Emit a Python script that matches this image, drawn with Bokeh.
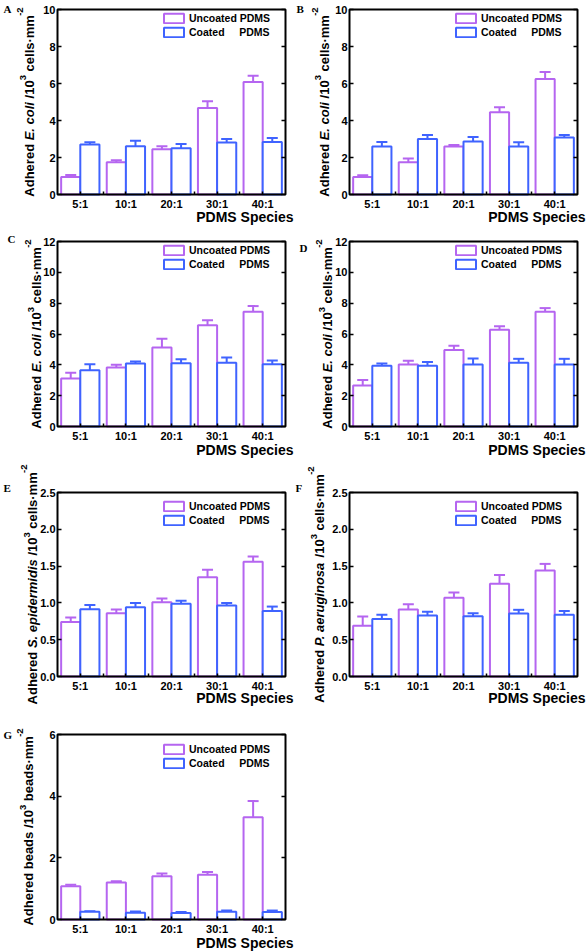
import math
from bokeh.plotting import figure
from bokeh.models import (ColumnDataSource, Range1d, LinearAxis, FixedTicker, PrintfTickFormatter,
                          Label, Legend, LegendItem, Whisker, TeeHead, BoxAnnotation)
from bokeh.layouts import column, row
from bokeh.embed import file_html
from bokeh.resources import INLINE

# ---------------- data ----------------
categories = ["5:1", "10:1", "20:1", "30:1", "40:1"]
series_names = ["Uncoated PDMS", "Coated\u00a0\u00a0\u00a0\u00a0\u00a0PDMS"]
x_title = "PDMS Species"

a_uncoated = [0.95, 1.74, 2.45, 4.68, 6.08]
a_uncoated_err = [0.11, 0.11, 0.16, 0.36, 0.34]
a_coated = [2.70, 2.61, 2.50, 2.81, 2.84]
a_coated_err = [0.12, 0.29, 0.23, 0.19, 0.22]

b_uncoated = [0.94, 1.74, 2.59, 4.44, 6.24]
b_uncoated_err = [0.10, 0.20, 0.09, 0.27, 0.38]
b_coated = [2.59, 3.00, 2.86, 2.59, 3.08]
b_coated_err = [0.25, 0.22, 0.25, 0.23, 0.14]

c_uncoated = [3.11, 3.83, 5.12, 6.57, 7.44]
c_uncoated_err = [0.37, 0.17, 0.57, 0.33, 0.37]
c_coated = [3.65, 4.09, 4.11, 4.13, 4.04]
c_coated_err = [0.39, 0.13, 0.26, 0.35, 0.24]

d_uncoated = [2.66, 4.02, 4.97, 6.27, 7.44]
d_uncoated_err = [0.35, 0.24, 0.26, 0.24, 0.24]
d_coated = [3.94, 3.94, 4.02, 4.13, 4.02]
d_coated_err = [0.15, 0.25, 0.39, 0.26, 0.37]

e_uncoated = [0.74, 0.86, 1.01, 1.35, 1.56]
e_uncoated_err = [0.06, 0.05, 0.05, 0.10, 0.07]
e_coated = [0.915, 0.94, 0.99, 0.965, 0.89]
e_coated_err = [0.055, 0.06, 0.04, 0.035, 0.06]

f_uncoated = [0.69, 0.91, 1.07, 1.26, 1.44]
f_uncoated_err = [0.125, 0.07, 0.07, 0.12, 0.09]
f_coated = [0.78, 0.83, 0.82, 0.856, 0.84]
f_coated_err = [0.06, 0.05, 0.04, 0.05, 0.05]

g_uncoated = [1.08, 1.20, 1.40, 1.45, 3.32]
g_uncoated_err = [0.05, 0.04, 0.09, 0.09, 0.52]
g_coated = [0.25, 0.22, 0.21, 0.25, 0.24]
g_coated_err = [0.02, 0.04, 0.03, 0.04, 0.05]

ticks_10 = [0, 2, 4, 6, 8, 10]
tick_labels_10 = ["0", "2", "4", "6", "8", "10"]
ticks_12 = [0, 2, 4, 6, 8, 10, 12]
tick_labels_12 = ["0", "2", "4", "6", "8", "10", "12"]
ticks_25 = [0, 0.5, 1.0, 1.5, 2.0, 2.5]
tick_labels_25 = ["0.0", "0.5", "1.0", "1.5", "2.0", "2.5"]
ticks_6 = [0, 2, 4, 6]
tick_labels_6 = ["0", "2", "4", "6"]

# y-axis titles: (text, italic, superscript)
ylab_ecoli = [("Adhered ", False, False), ("E. coli", True, False), (" /10", False, False),
              ("3", False, True), (" cells\u00b7mm", False, False), ("-2", False, True)]
ylab_sepi = [("Adhered ", False, False), ("S. epidermidis", True, False), (" /10", False, False),
             ("3", False, True), (" cells\u00b7mm", False, False), ("-2", False, True)]
ylab_paer = [("Adhered ", False, False), ("P. aeruginosa", True, False), (" /10", False, False),
             ("3", False, True), (" cells\u00b7mm", False, False), ("-2", False, True)]
ylab_beads = [("Adhered beads /10", False, False), ("3", False, True),
              (" beads\u00b7mm", False, False), ("-2", False, True)]

# ---------------- style ----------------
FONT = "Liberation Sans"
SERIF = "Liberation Serif"
PURPLE = "#B565F0"
BLUE = "#3F63FF"
MAIN_SIZE = 13.0
SUP_SIZE = 9.5
FRAME_W = 228

W_BOLD = {' ': 278, '\u00a0': 278, '-': 333, '.': 278, '/': 278, ':': 333, '\u00b7': 278,
          'A': 722, 'B': 722, 'C': 722, 'D': 722, 'E': 667, 'P': 667, 'S': 667, 'M': 833,
          'U': 722, 'a': 556, 'b': 611, 'c': 556, 'd': 611, 'e': 556, 'g': 611, 'h': 611,
          'i': 278, 'l': 278, 'm': 889, 'n': 611, 'o': 611, 'p': 611, 'r': 389, 's': 556,
          't': 333, 'u': 611}


def text_width(s, size):
    return sum(W_BOLD.get(ch, 556) for ch in s) * size / 1000.0


def make_panel(letter, u, ue, c, ce, y_end, ticks, tick_labels, ylab,
               W, H, box_left, box_top, frame_h,
               letter_xy, ylab_x, ylab_shift, legend_dy, xlabel_dy):
    n = len(categories)
    ppx = FRAME_W / n              # px per category
    pyu = frame_h / y_end          # px per y unit
    bottom_px = H - box_top - frame_h

    p = figure(width=W, height=H,
               x_range=Range1d(-box_left / ppx, n + (W - box_left - FRAME_W) / ppx),
               y_range=Range1d(-bottom_px / pyu, y_end + box_top / pyu),
               output_backend="svg", toolbar_location=None, tools="", title=None,
               x_axis_location=None, y_axis_location=None, min_border=0)
    p.background_fill_color = "white"
    p.border_fill_color = "white"
    p.outline_line_color = None
    p.xgrid.visible = False
    p.ygrid.visible = False

    def dx(px):
        return px / ppx

    def dy(px):
        return px / pyu

    centers = [i + 0.5 for i in range(n)]
    src = ColumnDataSource(dict(cat=categories,
                                xu=[x - 0.21 for x in centers], xc=[x + 0.21 for x in centers],
                                u=u, c=c,
                                u_top=[v + e for v, e in zip(u, ue)],
                                c_top=[v + e for v, e in zip(c, ce)]))
    r1 = p.vbar(x="xu", top="u", width=0.42, source=src, fill_color="white",
                line_color=PURPLE, line_width=2)
    r2 = p.vbar(x="xc", top="c", width=0.42, source=src, fill_color="white",
                line_color=BLUE, line_width=2)
    for base, lo, hi, col in (("xu", "u", "u_top", PURPLE), ("xc", "c", "c_top", BLUE)):
        w = Whisker(base=base, lower=lo, upper=hi, source=src, line_color=col, line_width=2,
                    lower_head=None,
                    upper_head=TeeHead(size=11, line_color=col, line_width=2))
        p.add_layout(w)

    # frame box
    p.add_layout(BoxAnnotation(left=0, right=n, bottom=0, top=y_end, fill_alpha=0,
                               line_color="black", line_width=2, line_alpha=1,
                               level="guide"))

    # axes (placed on the box edges)
    common = dict(axis_line_color=None, major_tick_line_width=1.5,
                  major_tick_line_color="black",
                  major_label_text_font=FONT, major_label_text_font_style="bold",
                  major_label_text_font_size="11px", major_label_text_color="black")
    fmt = PrintfTickFormatter(format="%.1f" if isinstance(ticks[1], float) else "%d")
    yl = LinearAxis(fixed_location=0, bounds=(0, y_end), ticker=FixedTicker(ticks=ticks),
                    formatter=fmt,
                    major_label_overrides={t: lab for t, lab in zip(ticks, tick_labels)},
                    major_tick_in=4, major_tick_out=0, major_label_standoff=2,
                    minor_tick_line_color=None, **common)
    p.add_layout(yl, "left")
    yr = LinearAxis(fixed_location=n, bounds=(0, y_end), ticker=FixedTicker(ticks=ticks),
                    major_tick_in=4, major_tick_out=0, major_label_standoff=0,
                    minor_tick_line_color=None, **common)
    yr.major_label_text_color = None
    p.add_layout(yr, "right")
    xb = LinearAxis(fixed_location=0, bounds=(0, n),
                    ticker=FixedTicker(ticks=centers, minor_ticks=list(range(1, n))),
                    major_label_overrides={x: cat for x, cat in zip(centers, categories)},
                    major_tick_in=3, major_tick_out=0, major_label_standoff=3,
                    minor_tick_in=3, minor_tick_out=0, minor_tick_line_color="black",
                    minor_tick_line_width=1.5, **common)
    p.add_layout(xb, "below")

    # legend
    leg_h = 25
    legend = Legend(items=[LegendItem(label=series_names[0], renderers=[r1]),
                           LegendItem(label=series_names[1], renderers=[r2])],
                    location=(box_left + 104, bottom_px + frame_h - legend_dy - leg_h),
                    label_text_font=FONT, label_text_font_style="bold",
                    label_text_font_size="10.5px", label_text_color="black",
                    glyph_width=25, glyph_height=12, label_height=12, label_standoff=3,
                    spacing=2, padding=0, margin=0, border_line_color=None,
                    background_fill_alpha=0)
    p.add_layout(legend)

    # x title
    p.add_layout(Label(x=dx(FRAME_W + 8), y=dy(-xlabel_dy),
                       text=x_title, text_font=FONT, text_font_style="bold",
                       text_font_size="14px", text_align="right", text_baseline="middle",
                       text_color="black"))

    # y title assembled from segments (spaces are advanced, not drawn)
    total = 0.0
    for t, it, sup in ylab:
        total += text_width(t, SUP_SIZE if sup else MAIN_SIZE)
    ypos = frame_h / 2.0 - total / 2.0 + ylab_shift
    for t, it, sup in ylab:
        size = SUP_SIZE if sup else MAIN_SIZE
        raise_px = 0
        if sup:
            raise_px = 6 if t == "3" else 9
        core = t.strip(" ")
        lead = t[:len(t) - len(t.lstrip(" "))]
        ypos += text_width(lead, size)
        p.add_layout(Label(x=dx(ylab_x - raise_px), y=dy(ypos),
                           angle=math.pi / 2, text=core, text_font=FONT,
                           text_font_style="bold italic" if it else "bold",
                           text_font_size=f"{size}px", text_align="left",
                           text_baseline="middle", text_color="black"))
        ypos += text_width(t.lstrip(" "), size)

    # panel letter
    p.add_layout(Label(x=dx(letter_xy[0]), y=dy(letter_xy[1]),
                       text=letter, text_font=SERIF, text_font_style="bold",
                       text_font_size="11px", text_align="left", text_baseline="top",
                       text_color="black"))
    return p


LW, RW = 295, 292
LBL, RBL = 57, 54

fA = make_panel("A", a_uncoated, a_uncoated_err, a_coated, a_coated_err, 10, ticks_10,
                tick_labels_10, ylab_ecoli, LW, 230, LBL, 9, 185,
                (-54, 192), -28.5, 0, 4, 22)
fB = make_panel("B", b_uncoated, b_uncoated_err, b_coated, b_coated_err, 10, ticks_10,
                tick_labels_10, ylab_ecoli, RW, 230, RBL, 9, 185,
                (-53, 192), -25.5, 0, 4, 22)
fC = make_panel("C", c_uncoated, c_uncoated_err, c_coated, c_coated_err, 12, ticks_12,
                tick_labels_12, ylab_ecoli, LW, 230, LBL, 11, 185,
                (-50, 194), -21, 0, 4, 23)
fD = make_panel("D", d_uncoated, d_uncoated_err, d_coated, d_coated_err, 12, ticks_12,
                tick_labels_12, ylab_ecoli, RW, 230, RBL, 11, 185,
                (-50, 185), -22, 0, 4, 23)
fE = make_panel("E", e_uncoated, e_uncoated_err, e_coated, e_coated_err, 2.5, ticks_25,
                tick_labels_25, ylab_sepi, LW, 252, LBL, 32, 184,
                (-54, 195), -25, 0, 9, 21)
fF = make_panel("F", f_uncoated, f_uncoated_err, f_coated, f_coated_err, 2.5, ticks_25,
                tick_labels_25, ylab_paer, RW, 252, RBL, 32, 184,
                (-54, 195), -30, 0, 9, 21)
fG = make_panel("G", g_uncoated, g_uncoated_err, g_coated, g_coated_err, 6, ticks_6,
                tick_labels_6, ylab_beads, LW, 239, LBL, 22, 185,
                (-54, 191), -29, 0, 10, 23)

layout = column(row(fA, fB), row(fC, fD), row(fE, fF), row(fG))
open("out.html", "w").write(file_html(layout, INLINE, title="PDMS adhesion"))
